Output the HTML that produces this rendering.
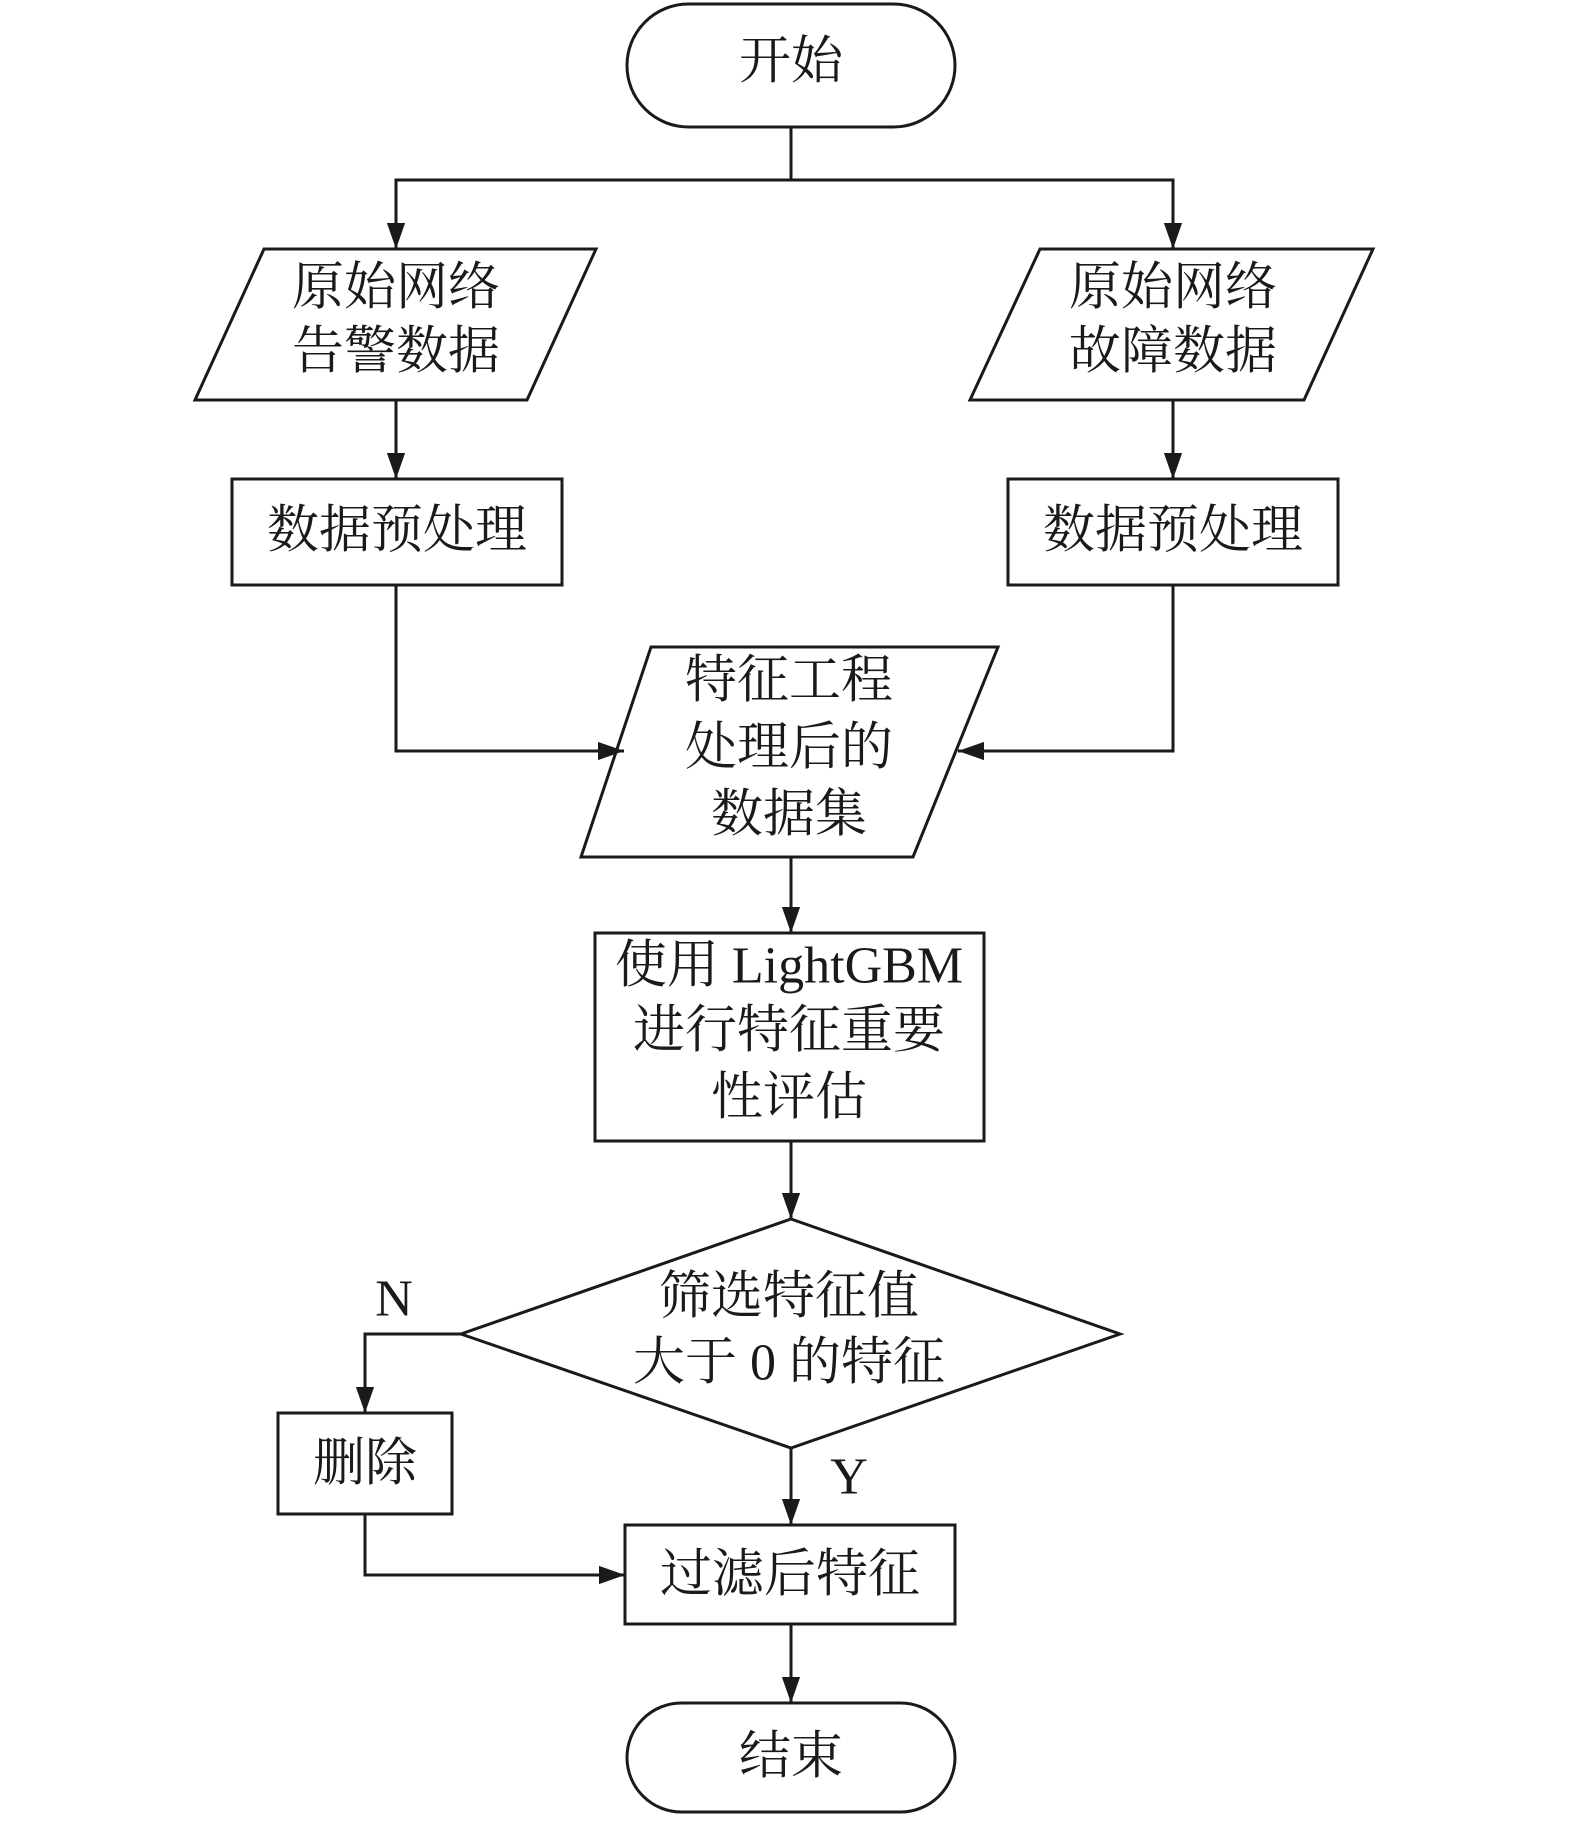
<!DOCTYPE html>
<html><head><meta charset="utf-8"><style>
html,body{margin:0;padding:0;background:#fff;}
svg text{font-family:"Liberation Serif","Noto Serif CJK SC",serif;font-size:52px;fill:#1a1a1a;text-anchor:middle;dominant-baseline:central;}
</style></head><body>
<svg width="1575" height="1822" viewBox="0 0 1575 1822" xmlns="http://www.w3.org/2000/svg">
<defs><marker id="a" markerWidth="12" markerHeight="12" refX="11" refY="6" orient="auto" markerUnits="userSpaceOnUse"><path d="M0,0 L0,0 L11,6 L0,12 Z" fill="#1a1a1a"/></marker>
<marker id="b" viewBox="0 0 10 10" refX="10" refY="5" markerWidth="26" markerHeight="26" orient="auto" markerUnits="userSpaceOnUse"><path d="M0,1.5 L10,5 L0,8.5 Z" fill="#1a1a1a"/></marker></defs>
<g fill="none" stroke="#1a1a1a" stroke-width="3">
<rect x="627" y="4" width="328" height="123" rx="61.5"/>
<polygon points="264,249 596,249 527,400 195,400"/>
<polygon points="1040,249 1373,249 1304,400 970,400"/>
<rect x="232" y="479" width="330" height="106"/>
<rect x="1008" y="479" width="330" height="106"/>
<polygon points="651,647 998,647 913,857 581,857"/>
<rect x="595" y="933" width="389" height="208"/>
<polygon points="791,1219 1120,1334 791,1448 461,1334"/>
<rect x="278" y="1413" width="174" height="101"/>
<rect x="625" y="1525" width="330" height="99"/>
<rect x="627" y="1703" width="328" height="109" rx="54.5"/>
<g marker-end="url(#b)">
<polyline points="791,127 791,180 396,180 396,249"/>
<polyline points="791,180 1173,180 1173,249"/>
<line x1="396" y1="400" x2="396" y2="479"/>
<line x1="1173" y1="400" x2="1173" y2="479"/>
<polyline points="396,585 396,751 624,751"/>
<polyline points="1173,585 1173,751 958,751"/>
<line x1="791" y1="857" x2="791" y2="933"/>
<line x1="791" y1="1141" x2="791" y2="1219"/>
<polyline points="461,1334 365,1334 365,1413"/>
<line x1="791" y1="1448" x2="791" y2="1525"/>
<polyline points="365,1514 365,1575 625,1575"/>
<line x1="791" y1="1624" x2="791" y2="1703"/>
</g></g>
<text x="791" y="62">开始</text>
<text x="396" y="288">原始网络</text><text x="396" y="352">告警数据</text>
<text x="1173" y="288">原始网络</text><text x="1173" y="352">故障数据</text>
<text x="397" y="531">数据预处理</text>
<text x="1173" y="531">数据预处理</text>
<text x="789" y="681">特征工程</text><text x="789" y="748">处理后的</text><text x="789" y="815">数据集</text>
<text x="789" y="966">使用 LightGBM</text><text x="789" y="1031">进行特征重要</text><text x="789" y="1098">性评估</text>
<text x="789" y="1297">筛选特征值</text><text x="789" y="1363">大于 0 的特征</text>
<text x="394" y="1299">N</text>
<text x="849" y="1477">Y</text>
<text x="365" y="1464">删除</text>
<text x="790" y="1575">过滤后特征</text>
<text x="791" y="1757">结束</text>
</svg>
</body></html>
